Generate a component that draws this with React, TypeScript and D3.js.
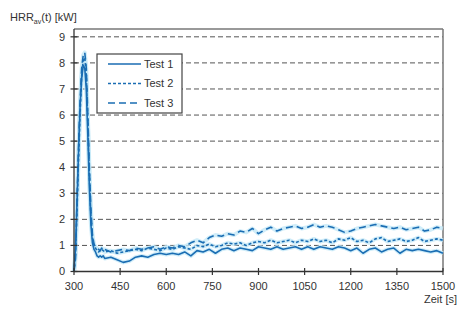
import React from "react";
import * as d3 from "d3";

const times = [300,305,310,315,320,325,330,335,340,345,350,355,360,365,370,375,380,385,390,395,400,
420,440,460,480,500,520,540,560,580,600,620,640,660,680,700,720,740,760,780,800,820,840,860,880,900,
920,940,960,980,1000,1020,1040,1060,1080,1100,1120,1140,1160,1180,1200,1220,1240,1260,1280,1300,1320,
1340,1360,1380,1400,1420,1440,1460,1480,1500];

const test1 = [0,0.9,2.7,4.7,6.4,7.4,7.9,7.8,7.0,5.2,3.2,1.8,1.1,0.85,0.75,0.6,0.55,0.6,0.55,0.6,0.5,
0.55,0.45,0.35,0.4,0.55,0.6,0.55,0.65,0.7,0.65,0.7,0.65,0.75,0.6,0.8,0.75,0.85,0.7,0.85,0.9,0.8,0.9,0.85,0.8,0.95,
0.9,0.85,0.95,0.85,0.9,0.95,0.85,0.95,0.85,0.95,0.9,0.85,0.95,0.9,0.8,0.9,0.7,0.85,0.9,0.75,0.85,
0.9,0.7,0.85,0.8,0.85,0.8,0.75,0.8,0.7];

const test2 = [0,0.7,2.4,4.4,6.1,7.5,8.1,8.2,7.5,5.7,3.7,2.1,1.3,1.0,0.9,0.8,0.75,0.8,0.85,0.8,0.75,
0.8,0.7,0.75,0.8,0.85,0.8,0.9,0.85,0.8,0.9,0.85,0.95,0.9,0.85,1.0,0.95,1.05,0.95,1.0,1.1,1.05,1.1,1.0,1.1,1.15,
1.1,1.2,1.1,1.15,1.2,1.1,1.2,1.15,1.25,1.15,1.2,1.1,1.25,1.2,1.3,1.15,1.2,1.1,1.25,1.3,1.15,
1.2,1.25,1.15,1.2,1.3,1.15,1.2,1.25,1.2];

const test3 = [0,0.5,2.9,4.9,6.6,7.8,8.3,8.4,7.8,6.0,4.0,2.4,1.4,1.05,0.95,0.9,0.85,0.8,0.9,0.8,0.85,
0.75,0.8,0.85,0.8,0.9,0.85,0.9,0.95,0.85,0.95,0.9,1.0,0.95,1.1,1.2,1.1,1.3,1.4,1.35,1.45,1.4,1.55,1.5,1.65,1.45,
1.6,1.7,1.55,1.65,1.7,1.75,1.65,1.7,1.8,1.7,1.75,1.7,1.6,1.5,1.55,1.65,1.7,1.75,1.8,1.75,1.7,
1.65,1.7,1.6,1.65,1.7,1.55,1.6,1.7,1.65];

const xTicks = [300,450,600,750,900,1050,1200,1350,1500];
const yTicks = [0,1,2,3,4,5,6,7,8,9];

const seriesNames = ["Test 1", "Test 2", "Test 3"];
const seriesData = [test1, test2, test3];
const seriesDash = ["", "3,2", "7,4"];

export default function App() {
  const W = 459, H = 309;
  const left = 74, right = 443, top = 29, bottom = 271.5;
  const x = d3.scaleLinear().domain([300, 1500]).range([left, right]);
  const y = d3.scaleLinear().domain([0, 9.3]).range([bottom, top]);
  const line = d3.line<number>().x((_, i) => x(times[i])).y((d) => y(d));
  const font = "'Liberation Sans', Arial, sans-serif";
  const blue = "#1a6db3";
  const halo = "#c4e8f8";

  const lg = { x: 97, y: 54, w: 85, h: 59 };
  const lgRows = [64, 83.5, 103];

  return (
    <svg width={W} height={H} style={{ position: "absolute", left: 0, top: 0, background: "#fff" }} fontFamily={font}>
      <rect x={0} y={0} width={W} height={H} fill="#fff" />
      {/* gridlines */}
      {yTicks.filter((t) => t > 0).map((t) => (
        <line key={"g" + t} x1={left} x2={right} y1={y(t)} y2={y(t)} stroke="#555" strokeWidth={1} strokeDasharray="5,3" />
      ))}
      {/* frame */}
      <line x1={left} x2={right} y1={top} y2={top} stroke="#777" strokeWidth={1.5} />
      <line x1={right} x2={right} y1={top} y2={bottom} stroke="#777" strokeWidth={1.5} />
      {/* halos */}
      {seriesData.map((s, i) => (
        <path key={"h" + i} d={line(s) || ""} fill="none" stroke={halo} strokeWidth={4} strokeLinejoin="round" opacity={0.8} />
      ))}
      {/* lines */}
      {seriesData.map((s, i) => (
        <path key={"l" + i} d={line(s) || ""} fill="none" stroke={blue} strokeWidth={1.6} strokeDasharray={seriesDash[i]} strokeLinejoin="round" />
      ))}
      {/* axes */}
      <line x1={left} x2={left} y1={top} y2={bottom} stroke="#333" strokeWidth={1.3} />
      <line x1={left} x2={right} y1={bottom} y2={bottom} stroke="#333" strokeWidth={1.3} />
      {yTicks.map((t) => (
        <g key={"yt" + t}>
          <line x1={left - 3.5} x2={left + 3.5} y1={y(t)} y2={y(t)} stroke="#333" strokeWidth={1.2} />
          <text x={left - 9} y={y(t)} dy="0.35em" textAnchor="end" fontSize={11} fill="#333">{t}</text>
        </g>
      ))}
      {xTicks.map((t) => (
        <g key={"xt" + t}>
          <line x1={x(t)} x2={x(t)} y1={bottom - 3.5} y2={bottom + 3.5} stroke="#333" strokeWidth={1.2} />
          <text x={x(t)} y={bottom + 18} textAnchor="middle" fontSize={11} fill="#333">{t}</text>
        </g>
      ))}
      {/* titles */}
      <text x={10} y={21} fontSize={11} fill="#333">
        HRR<tspan fontSize={7} dy={3}>av</tspan><tspan dy={-3}>(t) [kW]</tspan>
      </text>
      <text x={457} y={303} textAnchor="end" fontSize={11} fill="#333">Zeit [s]</text>
      {/* legend */}
      <rect x={lg.x} y={lg.y} width={lg.w} height={lg.h} fill="#fff" stroke="#444" strokeWidth={1.2} />
      {seriesNames.map((n, i) => (
        <g key={"lg" + i}>
          <line x1={108} x2={141} y1={lgRows[i]} y2={lgRows[i]} stroke={blue} strokeWidth={1.6} strokeDasharray={seriesDash[i]} />
          <text x={144} y={lgRows[i]} dy="0.35em" fontSize={11} fill="#333">{n}</text>
        </g>
      ))}
    </svg>
  );
}
